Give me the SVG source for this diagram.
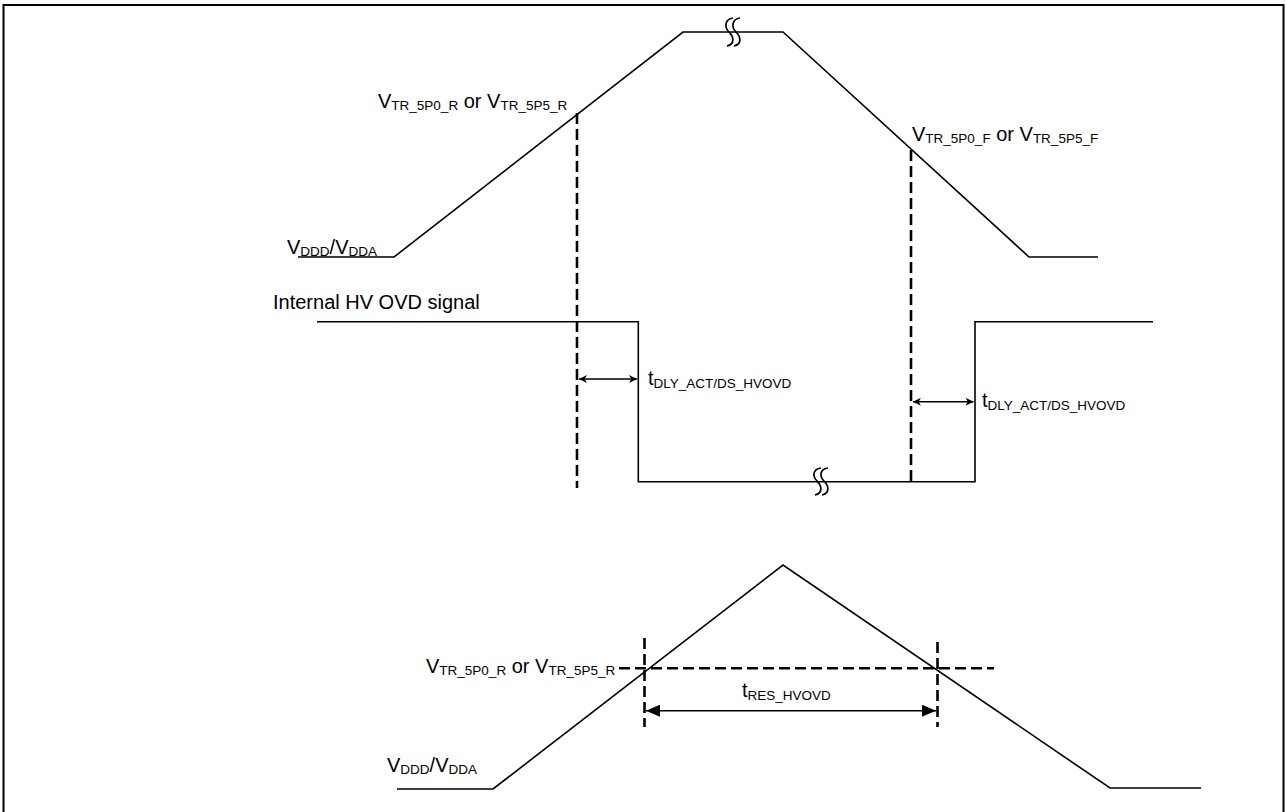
<svg xmlns="http://www.w3.org/2000/svg" width="1286" height="812" viewBox="0 0 1286 812">
<style>
.sig{fill:none;stroke:#000;stroke-width:1.6;stroke-linejoin:miter}
.dash{fill:none;stroke:#000;stroke-width:2.6;stroke-dasharray:11 5}
.arr{fill:none;stroke:#000;stroke-width:1.4}
.brk{fill:none;stroke:#000;stroke-width:1.7}
text{font-family:"Liberation Sans",Arial,sans-serif;font-size:20px;fill:#000}
.sub{font-size:13.5px}
</style>
<defs>
<marker id="ah" viewBox="0 0 10 10" refX="10" refY="5" markerWidth="8" markerHeight="8" markerUnits="userSpaceOnUse" orient="auto-start-reverse">
<path d="M0,0 L10,5 L0,10 L3,5 Z" fill="#000"/>
</marker>
<marker id="ahb" viewBox="0 0 10 10" refX="10" refY="5" markerWidth="14" markerHeight="12" markerUnits="userSpaceOnUse" orient="auto-start-reverse" preserveAspectRatio="none">
<path d="M0,0 L10,5 L0,10 Z" fill="#000"/>
</marker>
</defs>
<rect width="1286" height="812" fill="#fff"/>
<path d="M3.5,815 V5 H1283.5 V815" fill="none" stroke="#000" stroke-width="2"/>

<g id="top-supply">
<path class="sig" d="M298,257 H394 L683,32 H783 L1029,257 H1098"/>
<path class="brk" d="M733,18 C725,19 724,27 729,32 C734,37 735,44 727,46"/>
<path class="brk" d="M740,18 C732,19 731,27 736,32 C741,37 742,44 734,46"/>
<text x="287" y="254">V<tspan class="sub" dy="2">DDD</tspan><tspan dy="-2">/V</tspan><tspan class="sub" dy="2">DDA</tspan></text>
<text x="378" y="108">V<tspan class="sub" dy="2">TR_5P0_R</tspan><tspan dy="-2"> or V</tspan><tspan class="sub" dy="2">TR_5P5_R</tspan></text>
<text x="912" y="141">V<tspan class="sub" dy="2">TR_5P0_F</tspan><tspan dy="-2"> or V</tspan><tspan class="sub" dy="2">TR_5P5_F</tspan></text>
</g>

<g id="ovd-signal">
<path class="sig" d="M317,321.7 H638.3 V481.7 H975 V321.7 H1153"/>
<path class="brk" d="M821,468 C813,469 812,476 817,481 C822,486 823,493 815,495"/>
<path class="brk" d="M828,468 C820,469 819,476 824,481 C829,486 830,493 822,495"/>
<text x="273" y="309">Internal HV OVD signal</text>
<text x="648" y="385">t<tspan class="sub" dy="3">DLY_ACT/DS_HVOVD</tspan></text>
<text x="982" y="407">t<tspan class="sub" dy="3">DLY_ACT/DS_HVOVD</tspan></text>
</g>

<g id="bottom-supply">
<path class="sig" d="M397,789 H493 L783,565 L1110,788 H1201"/>
<text x="387" y="772">V<tspan class="sub" dy="2">DDD</tspan><tspan dy="-2">/V</tspan><tspan class="sub" dy="2">DDA</tspan></text>
<text x="426" y="673">V<tspan class="sub" dy="2">TR_5P0_R</tspan><tspan dy="-2"> or V</tspan><tspan class="sub" dy="2">TR_5P5_R</tspan></text>
<text x="742" y="697">t<tspan class="sub" dy="3">RES_HVOVD</tspan></text>
</g>

<g id="connectors">
<line class="dash" x1="577" y1="113" x2="577" y2="488"/>
<line class="dash" x1="911" y1="150" x2="911" y2="482"/>
<line class="arr" x1="579" y1="379" x2="637" y2="379" marker-start="url(#ah)" marker-end="url(#ah)"/>
<line class="arr" x1="913" y1="401.7" x2="973.5" y2="401.7" marker-start="url(#ah)" marker-end="url(#ah)"/>
<line class="dash" x1="619" y1="668.3" x2="994" y2="668.3"/>
<line class="dash" x1="644.5" y1="638" x2="644.5" y2="727"/>
<line class="dash" x1="937.5" y1="642" x2="937.5" y2="727"/>
<line class="arr" x1="646" y1="710.7" x2="936" y2="710.7" marker-start="url(#ahb)" marker-end="url(#ahb)"/>
</g>
</svg>
